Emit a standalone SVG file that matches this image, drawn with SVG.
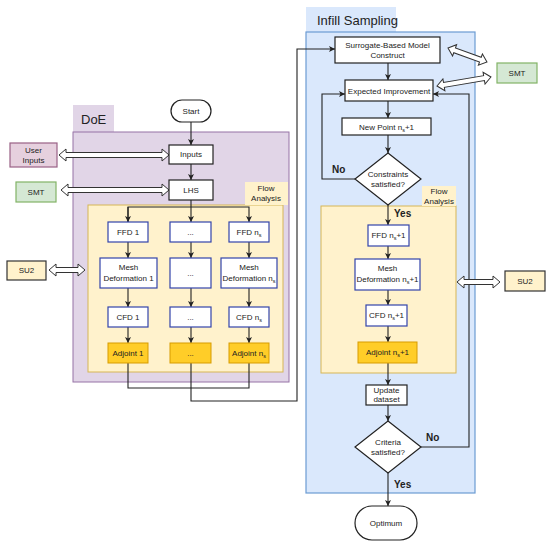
<svg xmlns="http://www.w3.org/2000/svg" width="550" height="546" viewBox="0 0 550 546">
<defs>
<marker id="ah" viewBox="0 0 10 10" refX="10" refY="5" markerWidth="6" markerHeight="6" orient="auto" markerUnits="userSpaceOnUse">
<path d="M0,0 L10,5 L0,10 L2.5,5 Z" fill="#222"/>
</marker>
<style>
text{font-family:"Liberation Sans",Arial,sans-serif;font-size:8px;fill:#222;text-anchor:middle}
.lbl{font-size:13px;text-anchor:start}
.yn{font-size:10px;font-weight:bold;text-anchor:start}
.sub{font-size:5.5px}
.w{fill:#fff;stroke:#3344aa;stroke-width:1.2}
.k{fill:#fff;stroke:#222;stroke-width:1.2}
.adj{fill:#ffcd28;stroke:#d79b00;stroke-width:1}
.smt{fill:#d5e8d4;stroke:#82b366;stroke-width:1.2}
.su2{fill:#fff2cc;stroke:#333;stroke-width:1.2}
.usr{fill:#e6d0de;stroke:#996185;stroke-width:1.2}
.flow{fill:#fff2cc;stroke:#d6b656;stroke-width:1}
.ftab{fill:#fff2cc;stroke:none}
.c{fill:none;stroke:#222;stroke-width:1.1}
.fx{fill:#fff;stroke:#333;stroke-width:1}
</style>
</defs>

<!-- containers -->
<g id="doe">
<rect x="73" y="105" width="41" height="27" fill="#e1d5e7"/>
<text class="lbl" x="81" y="124">DoE</text>
<rect x="73" y="132" width="216" height="250" fill="#e1d5e7" stroke="#9673a6" stroke-width="1"/>
</g>
<g id="infill">
<rect x="306" y="7" width="90" height="25" fill="#dae8fc"/>
<text class="lbl" x="317" y="25">Infill Sampling</text>
<rect x="306" y="32" width="169" height="461" fill="#dae8fc" stroke="#6c9bd2" stroke-width="1.2"/>
</g>
<g id="flow-left">
<rect class="flow" x="88" y="205" width="195" height="167"/>
<rect class="ftab" x="245" y="182" width="43" height="23"/>
<text x="266" y="191">Flow</text>
<text x="266" y="201">Analysis</text>
</g>
<g id="flow-right">
<rect class="flow" x="321" y="206" width="135" height="167"/>
<rect class="ftab" x="422" y="186" width="34" height="20"/>
<text x="439" y="194">Flow</text>
<text x="439" y="204">Analysis</text>
</g>

<!-- connectors -->
<g id="connectors">
<path class="c" d="M191,122 V145" marker-end="url(#ah)"/>
<path class="c" d="M191,164 V180" marker-end="url(#ah)"/>
<path class="c" d="M191,200 V222" marker-end="url(#ah)"/>
<path class="c" d="M128,222 V207 H249 V222" marker-end="url(#ah)"/>
<path class="c" d="M128,207 V222" marker-end="url(#ah)"/>
<path class="c" d="M128,242 V258" marker-end="url(#ah)"/>
<path class="c" d="M191,242 V258" marker-end="url(#ah)"/>
<path class="c" d="M249,242 V258" marker-end="url(#ah)"/>
<path class="c" d="M128,288 V307" marker-end="url(#ah)"/>
<path class="c" d="M191,288 V307" marker-end="url(#ah)"/>
<path class="c" d="M249,288 V307" marker-end="url(#ah)"/>
<path class="c" d="M128,327 V343" marker-end="url(#ah)"/>
<path class="c" d="M191,327 V343" marker-end="url(#ah)"/>
<path class="c" d="M249,327 V343" marker-end="url(#ah)"/>
<path class="c" d="M128,363 V388 H249 V363"/>
<path class="c" d="M191,363 V401 H297 V49 H335" marker-end="url(#ah)"/>

<path class="c" d="M388,63 V80" marker-end="url(#ah)"/>
<path class="c" d="M388,101 V118" marker-end="url(#ah)"/>
<path class="c" d="M388,135 V153" marker-end="url(#ah)"/>
<path class="c" d="M355,179 H322 V94 H345" marker-end="url(#ah)"/>
<path class="c" d="M388,205 V225" marker-end="url(#ah)"/>
<path class="c" d="M388,246 V259" marker-end="url(#ah)"/>
<path class="c" d="M388,290 V305" marker-end="url(#ah)"/>
<path class="c" d="M388,326 V342" marker-end="url(#ah)"/>
<path class="c" d="M388,363 V385" marker-end="url(#ah)"/>
<path class="c" d="M388,405 V421" marker-end="url(#ah)"/>
<path class="c" d="M421,447 H469 V94 H433" marker-end="url(#ah)"/>
<path class="c" d="M388,473 V506" marker-end="url(#ah)"/>

<text class="yn" x="332" y="173">No</text>
<text class="yn" x="394" y="217">Yes</text>
<text class="yn" x="426" y="441">No</text>
<text class="yn" x="394" y="488">Yes</text>

<!-- double hollow arrows -->
<polygon class="fx" points="59,155 66,149 66,152.5 162,152.5 162,149 169,155 162,161 162,157.5 66,157.5 66,161"/>
<polygon class="fx" points="61,190 68,184 68,187.5 162,187.5 162,184 169,190 162,196 162,192.5 68,192.5 68,196"/>
<polygon class="fx" points="49,270 56,264 56,267.5 78,267.5 78,264 85,270 78,276 78,272.5 56,272.5 56,276"/>
<polygon class="fx" points="457,282 464,276 464,279.5 493,279.5 493,276 500,282 493,288 493,284.5 464,284.5 464,288"/>
<polygon class="fx" transform="translate(448,48) rotate(19.7)" points="0,0 7,-6 7,-2.5 34.4,-2.5 34.4,-6 41.4,0 34.4,6 34.4,2.5 7,2.5 7,6"/>
<polygon class="fx" transform="translate(437,86) rotate(-9.5)" points="0,0 7,-6 7,-2.5 47.7,-2.5 47.7,-6 54.7,0 47.7,6 47.7,2.5 7,2.5 7,6"/>
</g>

<!-- nodes -->
<g id="start"><rect class="k" x="171" y="100" width="40" height="22" rx="11"/><text x="191" y="114">Start</text></g>
<g id="inputs"><rect class="k" x="169" y="145" width="44" height="19"/><text x="191" y="157">Inputs</text></g>
<g id="lhs"><rect class="k" x="169" y="180" width="44" height="20"/><text x="191" y="193">LHS</text></g>

<g id="user-inputs"><rect class="usr" x="10" y="143" width="47" height="24"/><text x="33.5" y="153">User</text><text x="33.5" y="163">Inputs</text></g>
<g id="smt-left"><rect class="smt" x="16" y="182" width="40" height="20"/><text x="36" y="195">SMT</text></g>
<g id="su2-left"><rect class="su2" x="7" y="261" width="39" height="19"/><text x="26.5" y="273">SU2</text></g>

<g id="ffd1"><rect class="w" x="108" y="222" width="40" height="20"/><text x="128" y="235">FFD 1</text></g>
<g id="ffd-dots"><rect class="w" x="170" y="222" width="41" height="20"/><text x="190.5" y="235">...</text></g>
<g id="ffd-ns"><rect class="w" x="229" y="222" width="40" height="20"/><text x="249" y="235">FFD n<tspan class="sub" dy="2">s</tspan></text></g>

<g id="mesh1"><rect class="w" x="100" y="258" width="57" height="30"/><text x="128.5" y="270">Mesh</text><text x="128.5" y="281">Deformation 1</text></g>
<g id="mesh-dots"><rect class="w" x="170" y="258" width="41" height="30"/><text x="190.5" y="276">...</text></g>
<g id="mesh-ns"><rect class="w" x="221" y="258" width="56" height="30"/><text x="249" y="270">Mesh</text><text x="249" y="281">Deformation n<tspan class="sub" dy="2">s</tspan></text></g>

<g id="cfd1"><rect class="w" x="108" y="307" width="40" height="20"/><text x="128" y="320">CFD 1</text></g>
<g id="cfd-dots"><rect class="w" x="170" y="307" width="41" height="20"/><text x="190.5" y="320">...</text></g>
<g id="cfd-ns"><rect class="w" x="229" y="307" width="40" height="20"/><text x="249" y="320">CFD n<tspan class="sub" dy="2">s</tspan></text></g>

<g id="adj1"><rect class="adj" x="108" y="343" width="40" height="20"/><text x="128" y="356">Adjoint 1</text></g>
<g id="adj-dots"><rect class="adj" x="170" y="343" width="41" height="20"/><text x="190.5" y="356">...</text></g>
<g id="adj-ns"><rect class="adj" x="229" y="343" width="40" height="20"/><text x="249" y="356">Adjoint n<tspan class="sub" dy="2">s</tspan></text></g>

<g id="surrogate"><rect class="k" x="335" y="37" width="105" height="26"/><text x="387.5" y="48">Surrogate-Based Model</text><text x="387.5" y="58">Construct</text></g>
<g id="expected"><rect class="k" x="345" y="80" width="88" height="21"/><text x="389" y="93.5">Expected Improvement</text></g>
<g id="newpoint"><rect class="k" x="342" y="118" width="89" height="17"/><text x="386.5" y="129.5">New Point n<tspan class="sub" dy="2">s</tspan><tspan dy="-2">+1</tspan></text></g>
<g id="constraints"><polygon class="k" points="388,153 421,179 388,205 355,179"/><text x="388" y="177">Constraints</text><text x="388" y="187">satisfied?</text></g>

<g id="ffd-new"><rect class="w" x="368" y="225" width="41" height="21"/><text x="388.5" y="238">FFD n<tspan class="sub" dy="2">s</tspan><tspan dy="-2">+1</tspan></text></g>
<g id="mesh-new"><rect class="w" x="355" y="259" width="65" height="31"/><text x="387.5" y="271">Mesh</text><text x="387.5" y="282">Deformation n<tspan class="sub" dy="2">s</tspan><tspan dy="-2">+1</tspan></text></g>
<g id="cfd-new"><rect class="w" x="366" y="305" width="41" height="21"/><text x="386.5" y="318">CFD n<tspan class="sub" dy="2">s</tspan><tspan dy="-2">+1</tspan></text></g>
<g id="adj-new"><rect class="adj" x="358" y="342" width="59" height="21"/><text x="387.5" y="355">Adjoint n<tspan class="sub" dy="2">s</tspan><tspan dy="-2">+1</tspan></text></g>
<g id="update"><rect class="k" x="366" y="385" width="41" height="20"/><text x="386.5" y="393">Update</text><text x="386.5" y="402">dataset</text></g>
<g id="criteria"><polygon class="k" points="388,421 421,447 388,473 355,447"/><text x="388" y="445">Criteria</text><text x="388" y="455">satisfied?</text></g>
<g id="optimum"><rect class="k" x="355" y="506" width="62" height="34" rx="17"/><text x="386" y="526">Optimum</text></g>

<g id="smt-right"><rect class="smt" x="497" y="63" width="40" height="20"/><text x="517" y="76">SMT</text></g>
<g id="su2-right"><rect class="su2" x="505" y="271" width="40" height="20"/><text x="525" y="284">SU2</text></g>
</svg>
